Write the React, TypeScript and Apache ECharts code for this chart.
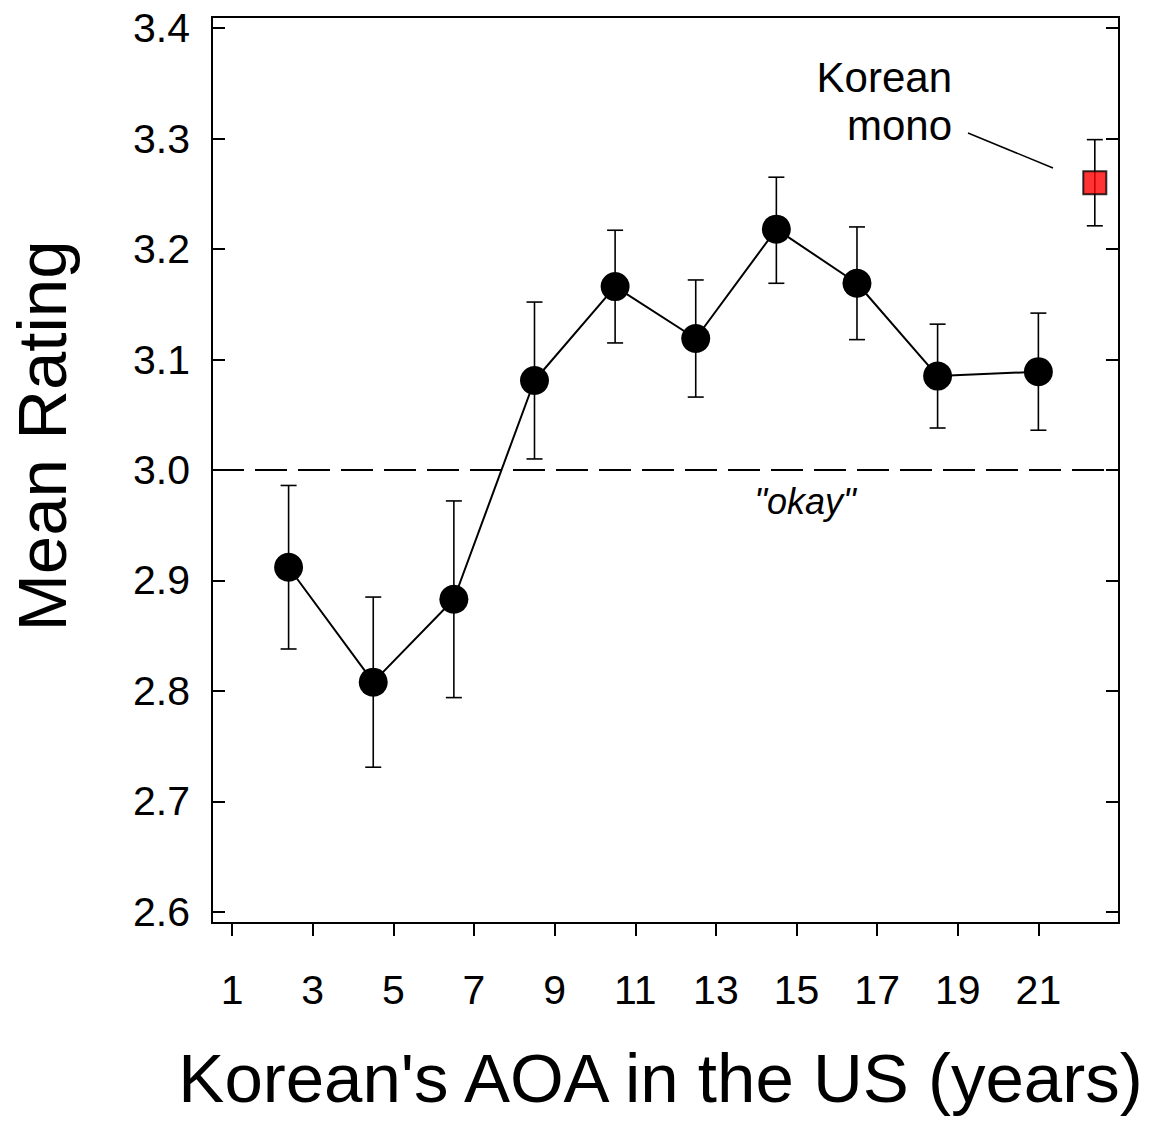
import React, { useEffect, useRef } from "react";
import * as echarts from "echarts";

// Age of arrival (years) and mean rating with error-bar limits
const aoa = [2.4, 4.5, 6.5, 8.5, 10.5, 12.5, 14.5, 16.5, 18.5, 21];
const meanRating = [2.912, 2.808, 2.883, 3.081, 3.166, 3.119, 3.218, 3.169, 3.085, 3.089];
const errLow = [2.838, 2.731, 2.794, 3.01, 3.115, 3.066, 3.169, 3.118, 3.038, 3.036];
const errHigh = [2.986, 2.885, 2.972, 3.152, 3.217, 3.172, 3.265, 3.22, 3.132, 3.142];

// Korean monolingual reference point
const monoX = [22.4];
const monoMean = [3.26];
const monoLow = [3.221];
const monoHigh = [3.299];

const okayLevel = 3.0;
const xTicks = [1, 3, 5, 7, 9, 11, 13, 15, 17, 19, 21];
const yTicks = [2.6, 2.7, 2.8, 2.9, 3.0, 3.1, 3.2, 3.3, 3.4];

const FONT = '"Liberation Sans", Arial, Helvetica, sans-serif';

const errorBarRender = (params: any, api: any) => {
  const x = api.value(0);
  const lo = api.coord([x, api.value(1)]);
  const hi = api.coord([x, api.value(2)]);
  const hw = 8;
  const style = { stroke: "#000", lineWidth: 1.6 };
  return {
    type: "group",
    children: [
      { type: "line", shape: { x1: lo[0], y1: lo[1], x2: hi[0], y2: hi[1] }, style },
      { type: "line", shape: { x1: lo[0] - hw, y1: lo[1], x2: lo[0] + hw, y2: lo[1] }, style },
      { type: "line", shape: { x1: hi[0] - hw, y1: hi[1], x2: hi[0] + hw, y2: hi[1] }, style },
    ],
  };
};

export default function App() {
  const ref = useRef<HTMLDivElement>(null);

  useEffect(() => {
    if (!ref.current) return;
    const chart = echarts.init(ref.current, null, { renderer: "svg" });

    const lineData = aoa.map((x, i) => [x, meanRating[i]]);
    const errData = aoa.map((x, i) => [x, errLow[i], errHigh[i]]);
    const monoData = monoX.map((x, i) => [x, monoMean[i]]);
    const monoErr = monoX.map((x, i) => [x, monoLow[i], monoHigh[i]]);

    const yRange = { min: 2.59, max: 3.41 };

    chart.setOption({
      animation: false,
      backgroundColor: "#fff",
      textStyle: { fontFamily: FONT, color: "#000" },
      grid: { left: 212, top: 17, width: 907, height: 906 },
      xAxis: [
        {
          type: "value",
          position: "bottom",
          min: 0.5,
          max: 23,
          axisLine: { show: true, lineStyle: { color: "#000", width: 2 } },
          axisTick: {
            show: true,
            inside: false,
            length: 13,
            customValues: xTicks,
            lineStyle: { color: "#000", width: 2 },
          },
          axisLabel: {
            customValues: xTicks,
            fontSize: 41,
            color: "#000",
            fontFamily: FONT,
            margin: 46,
          },
          splitLine: { show: false },
          name: "Korean's AOA in the US (years)",
          nameLocation: "middle",
          nameGap: 121,
          nameTextStyle: { fontSize: 69, color: "#000", fontFamily: FONT, padding: [0, 10, 0, 0] },
        },
        {
          type: "value",
          position: "top",
          min: 0.5,
          max: 23,
          axisLine: { show: true, onZero: false, lineStyle: { color: "#000", width: 2 } },
          axisTick: { show: false },
          axisLabel: { show: false },
          splitLine: { show: false },
        },
      ],
      yAxis: [
        {
          type: "value",
          position: "left",
          ...yRange,
          axisLine: { show: true, onZero: false, lineStyle: { color: "#000", width: 2 } },
          axisTick: {
            show: true,
            inside: true,
            length: 13,
            customValues: yTicks,
            lineStyle: { color: "#000", width: 2 },
          },
          axisLabel: {
            customValues: yTicks,
            formatter: (v: number) => v.toFixed(1),
            fontSize: 41,
            color: "#000",
            fontFamily: FONT,
            margin: 22,
          },
          splitLine: { show: false },
        },
        {
          type: "value",
          position: "right",
          ...yRange,
          axisLine: { show: true, onZero: false, lineStyle: { color: "#000", width: 2 } },
          axisTick: {
            show: true,
            inside: true,
            length: 13,
            customValues: yTicks,
            lineStyle: { color: "#000", width: 2 },
          },
          axisLabel: { show: false },
          splitLine: { show: false },
        },
      ],
      series: [
        {
          type: "custom",
          name: "error bars",
          renderItem: errorBarRender,
          data: errData,
          encode: { x: 0, y: [1, 2] },
          z: 2,
        },
        {
          type: "custom",
          name: "mono error bar",
          renderItem: errorBarRender,
          data: monoErr,
          encode: { x: 0, y: [1, 2] },
          z: 2,
        },
        {
          type: "line",
          name: "Mean Rating",
          data: lineData,
          symbol: "circle",
          symbolSize: 29,
          itemStyle: { color: "#000" },
          lineStyle: { color: "#000", width: 2 },
          z: 3,
          markLine: {
            silent: true,
            symbol: "none",
            lineStyle: { color: "#000", width: 2, type: [32, 11] },
            label: { show: false },
            data: [{ yAxis: okayLevel }],
          },
        },
        {
          type: "scatter",
          name: "Korean mono",
          data: monoData,
          symbol: "rect",
          symbolSize: 23,
          itemStyle: { color: "#ff0000", borderColor: "#000", borderWidth: 2 },
          z: 4,
        },
      ],
      graphic: [
        {
          type: "text",
          x: 42,
          y: 436,
          rotation: Math.PI / 2,
          style: {
            text: "Mean Rating",
            font: `69px ${FONT}`,
            fill: "#000",
            align: "center",
            verticalAlign: "middle",
          },
        },
        {
          type: "text",
          x: 805,
          y: 501,
          style: {
            text: '"okay"',
            font: `italic 36px ${FONT}`,
            fill: "#000",
            align: "center",
            verticalAlign: "middle",
          },
        },
        {
          type: "text",
          x: 952,
          y: 101,
          style: {
            text: "Korean\nmono",
            font: `42px ${FONT}`,
            lineHeight: 48,
            fill: "#000",
            align: "right",
            verticalAlign: "middle",
          },
        },
        {
          type: "line",
          shape: { x1: 968, y1: 133, x2: 1053, y2: 168 },
          style: { stroke: "#000", lineWidth: 1.5 },
        },
      ],
    });

    return () => chart.dispose();
  }, []);

  return (
    <div
      ref={ref}
      style={{ position: "fixed", left: 0, top: 0, width: 1157, height: 1123, background: "#fff" }}
    />
  );
}
